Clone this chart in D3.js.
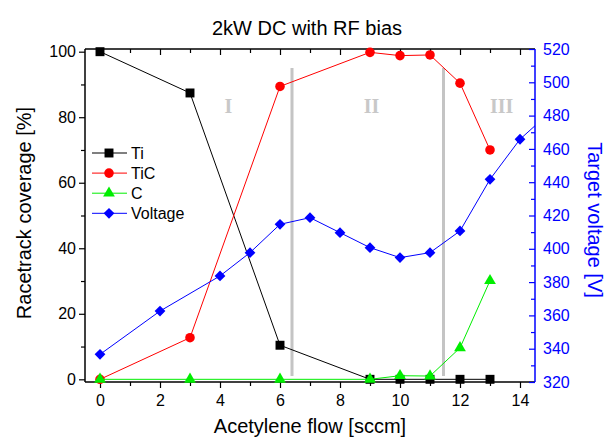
<!DOCTYPE html>
<html>
<head>
<meta charset="utf-8">
<script src="https://cdn.jsdelivr.net/npm/d3@7"></script>
<style>
  body { margin: 0; background: #fff; }
  svg { font-family: "Liberation Sans", Arial, sans-serif; }
</style>
</head>
<body>
<svg id="chart" width="608" height="440"></svg>
<script>
// Data
const flow = [0, 3, 6, 9, 10, 11, 12, 13];
const ti = [100, 87.4, 10.4, 0, 0, 0, 0, 0];
const tic = [0, 12.7, 89.4, 99.8, 98.8, 99.0, 90.4, 70.0];
const carbon = [0, 0, 0, 0, 1.1, 1.0, 9.6, 30.1];

const voltFlow = [0, 2, 4, 5, 6, 7, 8, 9, 10, 11, 12, 13, 14, 15];
const voltage = [336.6, 362.6, 383.7, 397.7, 414.7, 418.7, 409.7, 400.7, 394.7, 397.7, 410.7, 441.7, 465.8, 482];

const seriesNames = ["Ti", "TiC", "C", "Voltage"];
const seriesColors = ["#000000", "#ff0000", "#00ee00", "#0000ff"];

// region dividers (x) and labels
const dividers = [6.4, 11.45];
const dividerSpan = [1, 95];
const regionLabels = ["I", "II", "III"];
const regionX = [4.28, 9.05, 13.39];
const regionY = 81.2;

const xTicks = [0, 2, 4, 6, 8, 10, 12, 14];
const leftTicks = [0, 20, 40, 60, 80, 100];
const rightTicks = [320, 340, 360, 380, 400, 420, 440, 460, 480, 500, 520];

const margin = { top: 49, right: 73, bottom: 58, left: 85 };
const W = 608, H = 440;
const width = W - margin.left - margin.right;
const height = H - margin.top - margin.bottom;

const svg = d3.select("#chart");

const x = d3.scaleLinear().domain([-0.5, 14.5]).range([margin.left, margin.left + width]);
const y = d3.scaleLinear().domain([-0.82, 100.82]).range([margin.top + height, margin.top]);
const yr = d3.scaleLinear().domain([320, 520]).range([margin.top + height, margin.top]);

svg.append("defs").append("clipPath").attr("id", "clip")
  .append("rect")
  .attr("x", margin.left).attr("y", margin.top - 6)
  .attr("width", width).attr("height", height + 12);

// grey dividers
svg.append("g").selectAll("line")
  .data(dividers)
  .join("line")
  .attr("x1", d => x(d)).attr("x2", d => x(d))
  .attr("y1", y(dividerSpan[0])).attr("y2", y(dividerSpan[1]))
  .attr("stroke", "#c4c4c4").attr("stroke-width", 3);

svg.append("g").selectAll("text")
  .data(regionLabels)
  .join("text")
  .attr("x", (d, i) => x(regionX[i]))
  .attr("y", y(regionY))
  .attr("text-anchor", "middle")
  .attr("font-family", "'Liberation Serif', 'DejaVu Serif', serif")
  .attr("font-weight", "bold")
  .attr("font-size", 20)
  .attr("fill", "#c8c8c8")
  .text(d => d);

// axes
const xBottom = d3.axisBottom(x).tickValues(d3.range(0, 15)).tickSize(5).tickFormat(d => xTicks.includes(d) ? d : "");
const gxb = svg.append("g").attr("transform", `translate(0,${margin.top + height})`).call(xBottom);
gxb.selectAll(".tick line").attr("y2", d => xTicks.includes(d) ? 6 : 4);

const xTop = d3.axisTop(x).tickValues(d3.range(0, 15)).tickSize(0).tickFormat("");
const gxt = svg.append("g").attr("transform", `translate(0,${margin.top})`).call(xTop);
gxt.selectAll(".tick line").attr("y2", d => xTicks.includes(d) ? 6 : 4);

const yLeft = d3.axisLeft(y).tickValues(d3.range(0, 101, 10)).tickFormat(d => leftTicks.includes(d) ? d : "");
const gyl = svg.append("g").attr("transform", `translate(${margin.left},0)`).call(yLeft);
gyl.selectAll(".tick line").attr("x2", d => leftTicks.includes(d) ? -6 : -4);

const yRight = d3.axisRight(yr).tickValues(d3.range(320, 521, 10)).tickFormat(d => rightTicks.includes(d) && d % 20 === 0 ? d : "");
const gyr = svg.append("g").attr("transform", `translate(${margin.left + width},0)`).call(yRight);
gyr.selectAll(".tick line").attr("x2", d => d % 20 === 0 ? -6 : -4);

[gxb, gxt, gyl, gyr].forEach(g => {
  g.select(".domain").attr("stroke-width", 1.5);
  g.selectAll(".tick line").attr("stroke-width", 1.2);
  g.selectAll(".tick text").attr("font-size", 16).attr("font-family", "'Liberation Sans', Arial, sans-serif");
});
gxt.select(".domain").attr("d", `M${margin.left},0H${margin.left + width}`);
gxb.select(".domain").attr("d", `M${margin.left},0H${margin.left + width}`);
gyl.select(".domain").attr("d", `M0,${margin.top}V${margin.top + height}`);
gyr.select(".domain").attr("d", `M0,${margin.top}V${margin.top + height}`);
gxb.selectAll(".tick text").attr("dy", "1em").attr("y", 8);
gyl.selectAll(".tick text").attr("x", -9);
gyr.attr("color", "#0000ff");
gyr.selectAll(".tick text").attr("x", 8);

// series
const symbols = [d3.symbolSquare, d3.symbolCircle, d3.symbolTriangle, d3.symbolSquare];
const symbolSizes = [80, 72, 60, 58];
const symbolRotate = [0, 0, 0, 45];

function drawSeries(xs, ys, yScale, i) {
  const pts = xs.map((d, k) => [d, ys[k]]);
  const g = svg.append("g").attr("clip-path", "url(#clip)");
  g.append("path")
    .datum(pts)
    .attr("fill", "none")
    .attr("stroke", seriesColors[i])
    .attr("stroke-width", 1)
    .attr("d", d3.line().x(d => x(d[0])).y(d => yScale(d[1])));
  g.selectAll("path.pt")
    .data(pts.filter(d => d[0] <= 14.5))
    .join("path")
    .attr("class", "pt")
    .attr("transform", d => `translate(${x(d[0])},${yScale(d[1])}) rotate(${symbolRotate[i]})`)
    .attr("d", d3.symbol().type(symbols[i]).size(symbolSizes[i]))
    .attr("fill", seriesColors[i]);
}

drawSeries(flow, ti, y, 0);
drawSeries(flow, tic, y, 1);
drawSeries(flow, carbon, y, 2);
drawSeries(voltFlow, voltage, yr, 3);

// legend
const legend = svg.append("g").attr("transform", "translate(92,153)");
const item = legend.selectAll("g")
  .data(seriesNames)
  .join("g")
  .attr("transform", (d, i) => `translate(0,${i * 20.1})`);
item.append("line")
  .attr("x1", 0).attr("x2", 35)
  .attr("stroke", (d, i) => seriesColors[i]).attr("stroke-width", 1);
item.append("path")
  .attr("transform", (d, i) => `translate(17,0) rotate(${symbolRotate[i]})`)
  .attr("d", (d, i) => d3.symbol().type(symbols[i]).size(symbolSizes[i])())
  .attr("fill", (d, i) => seriesColors[i]);
item.append("text")
  .attr("x", 39).attr("dy", "0.35em")
  .attr("font-size", 16)
  .text(d => d);

// titles
svg.append("text")
  .attr("x", 307).attr("y", 35)
  .attr("text-anchor", "middle").attr("font-size", 20)
  .text("2kW DC with RF bias");

svg.append("text")
  .attr("x", 310).attr("y", 433)
  .attr("text-anchor", "middle").attr("font-size", 20)
  .text("Acetylene flow [sccm]");

svg.append("text")
  .attr("transform", "translate(31,213) rotate(-90)")
  .attr("text-anchor", "middle").attr("font-size", 20)
  .text("Racetrack coverage [%]");

svg.append("text")
  .attr("transform", "translate(588,220) rotate(90)")
  .attr("text-anchor", "middle").attr("font-size", 20)
  .attr("fill", "#0000ff")
  .text("Target voltage [V]");
</script>
</body>
</html>
